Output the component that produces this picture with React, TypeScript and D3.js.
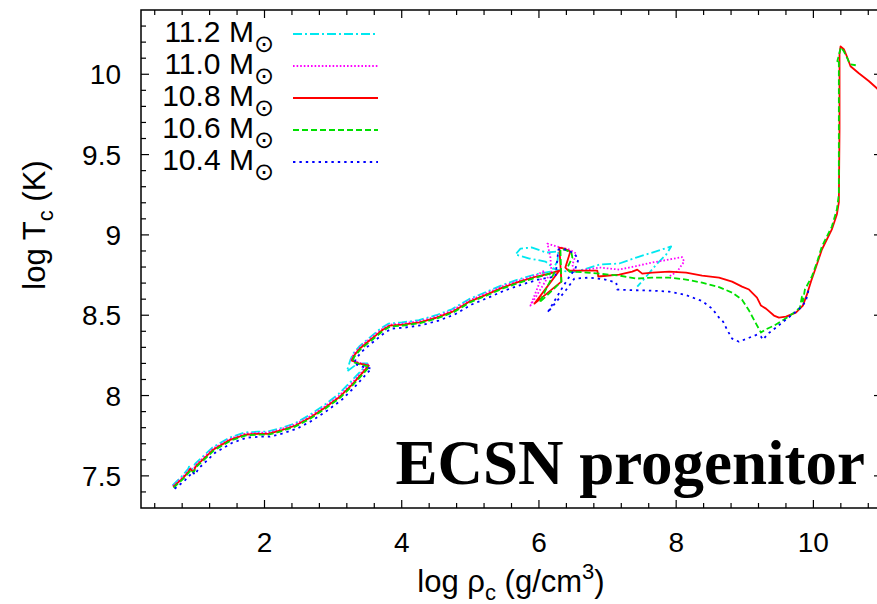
import React from "react";
import * as d3 from "d3";

type Pt = [number, number];

// Central density / central temperature tracks (log rho_c, log T_c)
const track112: Pt[] = [
  [0.66, 7.44], [0.8, 7.5], [0.89, 7.545], [0.9, 7.558], [0.94, 7.54], [0.99, 7.576],
  [1.24, 7.676], [1.49, 7.738], [1.71, 7.77], [1.9, 7.775], [2.05, 7.776], [2.22, 7.795],
  [2.44, 7.826], [2.65, 7.877], [2.87, 7.94], [3.08, 8.01], [3.25, 8.083], [3.4, 8.15],
  [3.5, 8.2], [3.36, 8.2], [3.2, 8.15], [3.25, 8.22], [3.29, 8.26], [3.38, 8.305],
  [3.48, 8.342], [3.62, 8.392], [3.71, 8.423], [3.81, 8.448], [4.0, 8.455], [4.25, 8.47],
  [4.5, 8.5], [4.73, 8.537], [4.98, 8.6], [5.22, 8.643], [5.46, 8.687], [5.7, 8.723],
  [5.95, 8.755], [6.18, 8.772], [6.269, 8.834], [6.284, 8.897], [6.109, 8.89], [5.891, 8.922],
  [5.731, 8.915], [5.658, 8.878], [5.862, 8.853], [6.095, 8.834], [6.24, 8.784], [6.487, 8.766],
  [6.647, 8.784], [6.88, 8.815], [7.171, 8.822], [7.418, 8.859], [7.651, 8.89], [7.927, 8.928],
  [7.855, 8.878], [7.709, 8.815], [7.564, 8.741], [7.433, 8.678],
];

const track110: Pt[] = [
  [0.665, 7.437], [0.81, 7.494], [0.9, 7.538], [0.91, 7.55], [0.955, 7.531], [1.0, 7.569],
  [1.245, 7.669], [1.495, 7.73], [1.71, 7.762], [1.9, 7.768], [2.05, 7.769], [2.22, 7.788],
  [2.44, 7.819], [2.655, 7.869], [2.875, 7.931], [3.09, 8.0], [3.265, 8.074], [3.41, 8.143],
  [3.51, 8.192], [3.38, 8.204], [3.265, 8.223], [3.295, 8.255], [3.385, 8.299], [3.485, 8.336],
  [3.63, 8.386], [3.72, 8.416], [3.82, 8.441], [4.01, 8.448], [4.255, 8.463], [4.505, 8.492],
  [4.735, 8.53], [4.985, 8.592], [5.23, 8.636], [5.465, 8.68], [5.71, 8.716], [5.96, 8.748],
  [6.08, 8.778], [5.876, 8.56], [6.182, 8.772], [6.167, 8.859], [6.124, 8.946], [6.255, 8.928],
  [6.444, 8.909], [6.545, 8.884], [6.487, 8.815], [6.516, 8.772], [6.88, 8.797], [7.171, 8.784],
  [7.418, 8.806], [7.651, 8.828], [7.898, 8.847], [8.087, 8.862], [8.116, 8.834], [8.015, 8.772],
  [7.898, 8.741],
];

const track108: Pt[] = [
  [0.669, 7.431], [0.815, 7.488], [0.902, 7.531], [0.916, 7.544], [0.96, 7.525], [1.004, 7.562],
  [1.251, 7.662], [1.498, 7.724], [1.716, 7.756], [1.905, 7.762], [2.051, 7.762], [2.225, 7.781],
  [2.444, 7.812], [2.662, 7.862], [2.88, 7.924], [3.098, 7.993], [3.273, 8.067], [3.418, 8.136],
  [3.52, 8.186], [3.389, 8.198], [3.273, 8.217], [3.302, 8.248], [3.389, 8.292], [3.491, 8.329],
  [3.636, 8.379], [3.724, 8.41], [3.825, 8.435], [4.015, 8.441], [4.262, 8.456], [4.509, 8.485],
  [4.742, 8.522], [4.989, 8.585], [5.236, 8.628], [5.469, 8.672], [5.716, 8.709], [5.964, 8.741],
  [6.153, 8.759], [6.298, 8.778], [5.935, 8.572], [6.327, 8.709], [6.298, 8.921], [6.371, 8.915],
  [6.458, 8.897], [6.385, 8.797], [6.429, 8.778], [6.851, 8.778], [6.865, 8.741], [7.171, 8.753],
  [7.36, 8.771], [7.433, 8.784], [7.505, 8.759], [7.651, 8.765], [7.898, 8.772], [8.145, 8.765],
  [8.378, 8.747], [8.625, 8.734], [8.815, 8.709], [8.96, 8.678], [9.062, 8.66], [9.178, 8.61],
  [9.236, 8.56], [9.309, 8.541], [9.425, 8.498], [9.498, 8.485], [9.6, 8.491], [9.745, 8.516],
  [9.847, 8.56], [9.905, 8.628], [9.964, 8.709], [10.036, 8.797], [10.124, 8.909], [10.269, 9.034],
  [10.342, 9.127], [10.371, 9.202], [10.381, 9.657], [10.381, 10.125], [10.396, 10.173],
  [10.444, 10.156], [10.487, 10.112], [10.541, 10.05], [10.662, 10.006], [10.807, 9.958],
  [10.909, 9.919], [10.98, 9.89],
];

const track106: Pt[] = [
  [0.675, 7.426], [0.82, 7.483], [0.91, 7.526], [0.925, 7.539], [0.965, 7.52], [1.01, 7.557],
  [1.26, 7.657], [1.505, 7.719], [1.72, 7.751], [1.91, 7.757], [2.055, 7.757], [2.23, 7.776],
  [2.45, 7.807], [2.67, 7.857], [2.885, 7.918], [3.105, 7.987], [3.28, 8.061], [3.425, 8.13],
  [3.53, 8.18], [3.395, 8.192], [3.28, 8.211], [3.31, 8.242], [3.395, 8.286], [3.5, 8.323],
  [3.645, 8.373], [3.73, 8.404], [3.83, 8.429], [4.02, 8.436], [4.27, 8.451], [4.515, 8.48],
  [4.75, 8.517], [4.995, 8.58], [5.24, 8.623], [5.475, 8.667], [5.72, 8.703], [5.97, 8.736],
  [6.225, 8.766], [6.007, 8.579], [6.327, 8.709], [6.313, 8.909], [6.371, 8.909], [6.473, 8.89],
  [6.487, 8.859], [6.415, 8.797], [6.444, 8.772], [6.691, 8.766], [7.171, 8.747], [7.418, 8.728],
  [7.651, 8.734], [7.898, 8.734], [8.145, 8.722], [8.378, 8.703], [8.625, 8.675], [8.815, 8.641],
  [8.96, 8.597], [9.062, 8.529], [9.164, 8.448], [9.236, 8.392], [9.295, 8.41], [9.425, 8.435],
  [9.571, 8.473], [9.716, 8.516], [9.804, 8.547], [9.833, 8.616], [9.847, 8.585], [9.876, 8.66],
  [9.978, 8.741], [10.051, 8.828], [10.124, 8.928], [10.269, 9.052], [10.342, 9.158],
  [10.371, 9.252], [10.371, 10.093], [10.349, 10.081], [10.385, 10.143], [10.4, 10.168],
  [10.444, 10.143], [10.502, 10.093], [10.531, 10.062], [10.618, 10.056],
];

const track104: Pt[] = [
  [0.69, 7.42], [0.84, 7.472], [0.93, 7.513], [0.945, 7.526], [0.99, 7.507], [1.035, 7.544],
  [1.28, 7.644], [1.53, 7.706], [1.745, 7.738], [1.935, 7.744], [2.08, 7.744], [2.255, 7.763],
  [2.475, 7.794], [2.695, 7.844], [2.91, 7.905], [3.13, 7.975], [3.305, 8.049], [3.45, 8.118],
  [3.56, 8.168], [3.42, 8.18], [3.305, 8.199], [3.335, 8.23], [3.42, 8.274], [3.52, 8.311],
  [3.665, 8.361], [3.755, 8.392], [3.855, 8.417], [4.045, 8.423], [4.29, 8.438], [4.54, 8.467],
  [4.77, 8.504], [5.02, 8.567], [5.265, 8.61], [5.5, 8.654], [5.745, 8.69], [5.99, 8.722],
  [6.24, 8.741], [6.284, 8.909], [6.385, 8.909], [6.516, 8.884], [6.575, 8.847], [6.531, 8.791],
  [6.415, 8.722], [6.342, 8.672], [6.124, 8.516], [6.4, 8.66], [6.516, 8.728], [6.735, 8.734],
  [6.967, 8.722], [7.127, 8.703], [7.142, 8.66], [7.36, 8.656], [7.651, 8.653], [7.898, 8.647],
  [8.145, 8.625], [8.378, 8.588], [8.524, 8.541], [8.625, 8.485], [8.684, 8.46], [8.742, 8.41],
  [8.815, 8.354], [8.916, 8.335], [9.062, 8.36], [9.178, 8.379], [9.236, 8.367], [9.265, 8.348],
  [9.338, 8.385], [9.455, 8.423], [9.6, 8.473], [9.745, 8.522], [9.833, 8.554], [9.891, 8.591],
  [9.935, 8.666],
];

const massLabels = ["11.2", "11.0", "10.8", "10.6", "10.4"];
const seriesTracks = [track112, track110, track108, track106, track104];
const seriesColors = ["#00e8f0", "#ff00ff", "#ff0000", "#00e000", "#0000ff"];
const seriesDash = ["9,3,2,3", "1.6,2", "none", "6,3", "2.4,4"];

const xMajorTicks = [2, 4, 6, 8, 10];
const xTickLabels = ["2", "4", "6", "8", "10"];
const yMajorTicks = [7.5, 8, 8.5, 9, 9.5, 10];
const yTickLabels = ["7.5", "8", "8.5", "9", "9.5", "10"];

const W = 877;
const H = 604;
const left = 141;
const right = 882;
const top = 10;
const bottom = 508;
const FONT = "'Liberation Sans', Arial, Helvetica, sans-serif";

export default function App() {
  const x = d3.scaleLinear().domain([0.2, 11]).range([left, right]);
  const y = d3.scaleLinear().domain([7.3, 10.4]).range([bottom, top]);
  const line = d3
    .line<Pt>()
    .x((d) => x(d[0]))
    .y((d) => y(d[1]));

  const xMinor = d3.range(0.4, 11, 0.4).filter((v) => !xMajorTicks.some((m) => Math.abs(m - v) < 1e-6));
  const yMinor = d3.range(7.4, 10.4, 0.1).filter((v) => !yMajorTicks.some((m) => Math.abs(m - v) < 1e-6));
  const majorLen = 8;
  const minorLen = 5;

  return (
    <svg
      width={W}
      height={H}
      style={{ position: "absolute", left: 0, top: 0, background: "#fff" }}
      fontFamily={FONT}
    >
      <defs>
        <clipPath id="plotArea">
          <rect x={left} y={top} width={right - left} height={bottom - top} />
        </clipPath>
      </defs>
      <rect x={0} y={0} width={W} height={H} fill="#fff" />

      {/* tracks, 11.2 drawn first and 10.4 last */}
      <g clipPath="url(#plotArea)">
        {seriesTracks.map((t, i) => (
          <path
            key={massLabels[i]}
            d={line(t) || ""}
            fill="none"
            stroke={seriesColors[i]}
            strokeWidth={1.8}
            strokeDasharray={seriesDash[i]}
            strokeLinejoin="round"
          />
        ))}
      </g>

      {/* frame */}
      <rect
        x={left}
        y={top}
        width={right - left}
        height={bottom - top}
        fill="none"
        stroke="#000"
        strokeWidth={1.5}
      />

      {/* ticks, all pointing inward */}
      <g stroke="#000" strokeWidth={1.2}>
        {xMajorTicks.map((v) => (
          <g key={"xM" + v}>
            <line x1={x(v)} x2={x(v)} y1={bottom} y2={bottom - majorLen} />
            <line x1={x(v)} x2={x(v)} y1={top} y2={top + majorLen} />
          </g>
        ))}
        {xMinor.map((v) => (
          <g key={"xm" + v}>
            <line x1={x(v)} x2={x(v)} y1={bottom} y2={bottom - minorLen} />
            <line x1={x(v)} x2={x(v)} y1={top} y2={top + minorLen} />
          </g>
        ))}
        {yMajorTicks.map((v) => (
          <g key={"yM" + v}>
            <line x1={left} x2={left + majorLen} y1={y(v)} y2={y(v)} />
            <line x1={right} x2={right - majorLen} y1={y(v)} y2={y(v)} />
          </g>
        ))}
        {yMinor.map((v) => (
          <g key={"ym" + v}>
            <line x1={left} x2={left + minorLen} y1={y(v)} y2={y(v)} />
            <line x1={right} x2={right - minorLen} y1={y(v)} y2={y(v)} />
          </g>
        ))}
      </g>

      {/* tick labels */}
      <g fontSize={28} fill="#000">
        {xMajorTicks.map((v, i) => (
          <text key={"xl" + v} x={x(v)} y={552} textAnchor="middle">
            {xTickLabels[i]}
          </text>
        ))}
        {yMajorTicks.map((v, i) => (
          <text key={"yl" + v} x={121} y={y(v) + 10} textAnchor="end">
            {yTickLabels[i]}
          </text>
        ))}
      </g>

      {/* axis titles */}
      <text x={511} y={592} textAnchor="middle" fontSize={31}>
        log ρ
        <tspan dy={8} fontSize={22}>c</tspan>
        <tspan dy={-8}> (g/cm</tspan>
        <tspan dy={-13} fontSize={22}>3</tspan>
        <tspan dy={13}>)</tspan>
      </text>
      <text
        transform={`translate(45,225) rotate(-90)`}
        textAnchor="middle"
        fontSize={31}
      >
        log T
        <tspan dy={8} fontSize={22}>c</tspan>
        <tspan dy={-8}> (K)</tspan>
      </text>

      {/* legend */}
      {massLabels.map((m, i) => {
        const ly = 34 + i * 32;
        return (
          <g key={"lg" + m}>
            <text x={274} y={ly + 8} textAnchor="end" fontSize={30}>
              {m} M
              <tspan dy={10} fontSize={24} fontFamily="'DejaVu Sans', sans-serif">⊙</tspan>
            </text>
            <line
              x1={293}
              x2={378}
              y1={ly}
              y2={ly}
              stroke={seriesColors[i]}
              strokeWidth={1.8}
              strokeDasharray={seriesDash[i]}
            />
          </g>
        );
      })}

      {/* annotation */}
      <text
        x={865}
        y={484}
        textAnchor="end"
        fontSize={63}
        fontWeight="bold"
        fontFamily="'Liberation Serif', 'Times New Roman', serif"
      >
        ECSN progenitor
      </text>
    </svg>
  );
}
